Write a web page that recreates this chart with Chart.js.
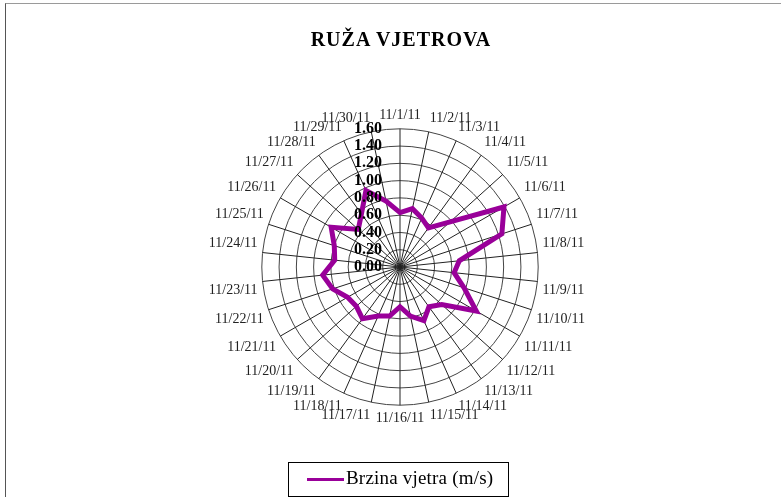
<!DOCTYPE html>
<html>
<head>
<meta charset="utf-8">
<script src="https://cdn.jsdelivr.net/npm/chart.js@4"></script>
<style>
  body { margin: 0; background: #fff; }
  #wrap { position: relative; width: 781px; height: 497px; overflow: hidden; }
  #frame { position: absolute; left: 5px; top: 3px; right: -2px; bottom: -2px;
           border-top: 1px solid #9a9a9a; border-left: 1px solid #555; }
  #title { position: absolute; left: 0; width: 802px; top: 28px; text-align: center;
           font: bold 20px "Liberation Serif", serif; letter-spacing: 1px; color: #000; }
  #legend { position: absolute; left: 288px; top: 462px; width: 219px; height: 33px;
            border: 1px solid #000; font: 19px "Liberation Serif", serif; color: #000; }
  #legend .line { position: absolute; left: 18px; top: 15px; width: 37px; height: 3px; background: #990099; }
  #legend .txt { position: absolute; left: 57px; top: 4px; letter-spacing: 0.2px; }
  canvas { position: absolute; left: 0; top: 0; }
</style>
</head>
<body>
<div id="wrap">
  <div id="frame"></div>
  <canvas id="windChart" width="781" height="497"></canvas>
  <div id="title">RUŽA VJETROVA</div>
  <div id="legend"><span class="line"></span><span class="txt">Brzina vjetra (m/s)</span></div>
</div>
<script>
// dates, 1.-30. November 2011
const dates = [
  '11/1/11', '11/2/11', '11/3/11', '11/4/11', '11/5/11', '11/6/11', '11/7/11', '11/8/11',
  '11/9/11', '11/10/11', '11/11/11', '11/12/11', '11/13/11', '11/14/11', '11/15/11',
  '11/16/11', '11/17/11', '11/18/11', '11/19/11', '11/20/11', '11/21/11', '11/22/11',
  '11/23/11', '11/24/11', '11/25/11', '11/26/11', '11/27/11', '11/28/11', '11/29/11', '11/30/11'
];

// wind speed (m/s)
const windSpeed = [
  0.63, 0.69, 0.62, 0.56, 0.78, 1.39, 1.24, 0.69, 0.63, 0.78,
  1.02, 0.65, 0.57, 0.68, 0.58, 0.46, 0.58, 0.62, 0.74, 0.68,
  0.70, 0.82, 0.90, 0.76, 0.80, 0.92, 0.65, 0.76, 0.97, 0.78
];

const tickLabels = ['0.00', '0.20', '0.40', '0.60', '0.80', '1.00', '1.20', '1.40', '1.60'];

// tick labels sit left of the vertical axis, like in excel
const tickLabelPlugin = {
  id: 'tickLabels',
  afterDraw(chart) {
    const s = chart.scales.r;
    const ctx = chart.ctx;
    ctx.save();
    ctx.font = 'bold 16px "Liberation Serif"';
    ctx.fillStyle = '#000';
    ctx.textAlign = 'right';
    ctx.textBaseline = 'middle';
    tickLabels.forEach((lbl) => {
      const d = s.getDistanceFromCenterForValue(parseFloat(lbl));
      ctx.fillText(lbl, s.xCenter - 18, s.yCenter - d);
    });
    ctx.restore();
  }
};

new Chart(document.getElementById('windChart'), {
  type: 'radar',
  data: {
    labels: dates,
    datasets: [{
      label: 'Brzina vjetra (m/s)',
      data: windSpeed,
      borderColor: '#990099',
      borderWidth: 5,
      fill: false,
      pointRadius: 0,
      tension: 0
    }]
  },
  options: {
    responsive: false,
    animation: false,
    layout: { padding: { top: 108, bottom: 69, left: 20, right: 0 } },
    plugins: {
      legend: { display: false },
      tooltip: { enabled: false }
    },
    scales: {
      r: {
        min: 0,
        max: 1.6,
        ticks: { stepSize: 0.2, display: false },
        grid: { circular: true, color: '#444', lineWidth: 1 },
        angleLines: { color: '#222', lineWidth: 1 },
        pointLabels: {
          font: { family: 'Liberation Serif', size: 14 },
          color: '#222',
          padding: 5
        }
      }
    }
  },
  plugins: [tickLabelPlugin]
});
</script>
</body>
</html>
